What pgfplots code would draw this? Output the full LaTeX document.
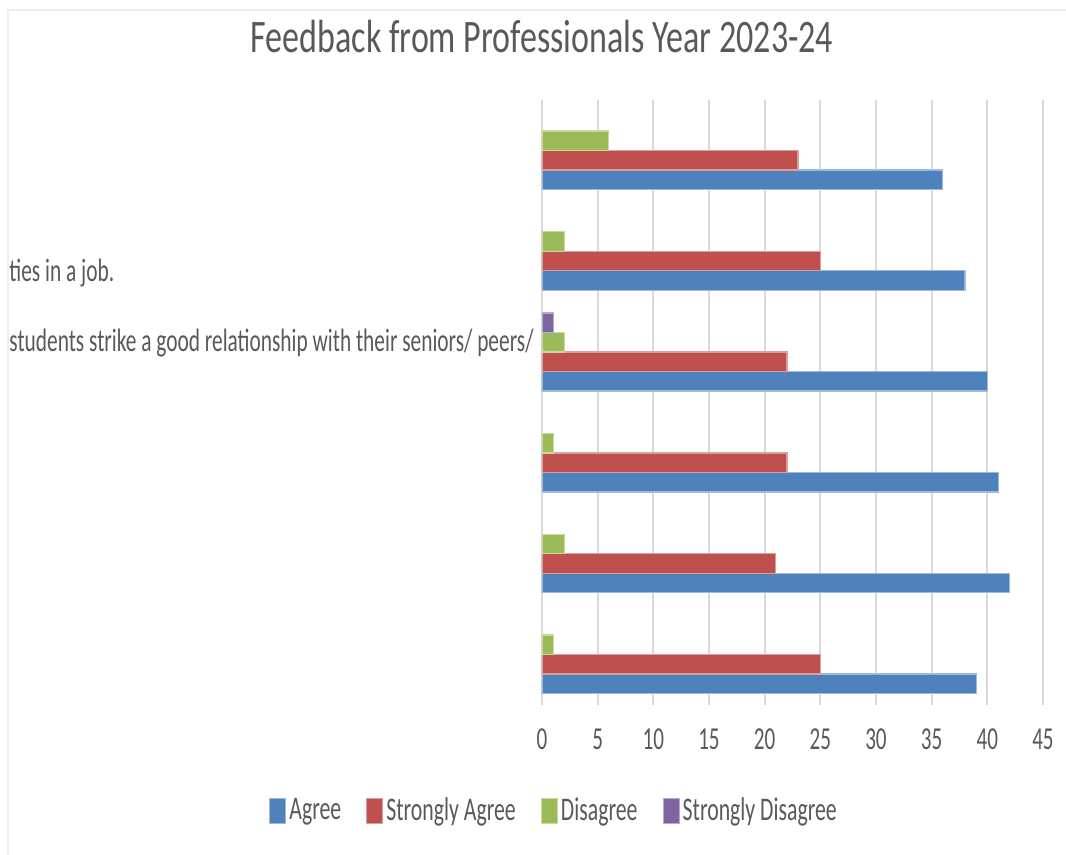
\documentclass[border=0pt]{standalone}
\usepackage{fontspec}
\setmainfont{Carlito}[FakeStretch=0.66]
\newfontfamily\titlefont{Carlito}[FakeStretch=0.73]
\usepackage{pgfplots}
\pgfplotsset{compat=1.18}
\definecolor{agree}{HTML}{4F81BD}
\definecolor{sagree}{HTML}{C0504D}
\definecolor{disag}{HTML}{9BBB59}
\definecolor{sdisag}{HTML}{8064A2}
\definecolor{txt}{HTML}{595959}
\definecolor{gridc}{HTML}{D9D9D9}

\pgfplotsset{
  sq legend/.style={legend image code/.code={%
    \fill[##1] (0pt,-6.25pt) rectangle (8pt,6.25pt);}},
}

\begin{document}
\begin{tikzpicture}
\useasboundingbox (-271pt,-75pt) rectangle (262pt,352.5pt);
% chart frame (only the left and top edges are in view)
\draw[line width=1pt, color=black!7] (-267pt,-75pt) -- (-267pt,347.5pt) -- (262pt,347.5pt);
\node[anchor=base, text=txt, font=\titlefont\fontsize{23.3}{28}\selectfont] at (0pt,326pt)
  {Feedback from Professionals Year 2023-24};

\begin{axis}[
  at={(0,0)}, anchor=south west,
  scale only axis, width=250.5pt, height=302.5pt,
  xbar=0pt, bar width=9.75pt,
  xmin=0, xmax=45, ymin=-0.5, ymax=5.5,
  xtick={0,5,...,45}, ytick=\empty,
  xmajorgrids, grid style={draw=gridc, line width=1pt},
  axis line style={draw=none},
  major tick length=0pt,
  tick label style={font=\fontsize{16}{19}\selectfont, text=txt},
  xticklabel style={anchor=base, yshift=-22.5pt},
  /pgf/number format/assume math mode=true,
  legend columns=4,
  legend style={at={(axis description cs:0.025,-0.175)}, anchor=center,
    draw=none, fill=none, inner sep=0pt, text=txt,
    font=\fontsize{16.5}{20}\selectfont,
    nodes={inner sep=1.5pt},
    /tikz/every even column/.append style={column sep=11pt}},
]
\addplot[fill=agree, draw=agree!55!white, line width=0.6pt, sq legend] coordinates {
  (39,0) (42,1) (41,2) (40,3) (38,4) (36,5)};
\addlegendentry{Agree}
\addplot[fill=sagree, draw=sagree!55!white, line width=0.6pt, sq legend] coordinates {
  (25,0) (21,1) (22,2) (22,3) (25,4) (23,5)};
\addlegendentry{Strongly Agree}
\addplot[fill=disag, draw=disag!55!white, line width=0.6pt, sq legend] coordinates {
  (1,0) (2,1) (1,2) (2,3) (2,4) (6,5)};
\addlegendentry{Disagree}
\addplot[fill=sdisag, draw=sdisag!55!white, line width=0.6pt, sq legend] coordinates {
  (1,3)};
\addlegendentry{Strongly Disagree}
\end{axis}

% category labels, cut off by the left edge of the chart in the source
\node[anchor=base west, inner sep=0pt, text=txt, font=\fontsize{16.2}{20}\selectfont]
  at (-266.5pt,211.5pt) {ties in a job.};
\node[anchor=base west, inner sep=0pt, text=txt, font=\fontsize{16.2}{20}\selectfont]
  at (-266.5pt,176.5pt) {students strike a good relationship with their seniors/ peers/};
\end{tikzpicture}
\end{document}
